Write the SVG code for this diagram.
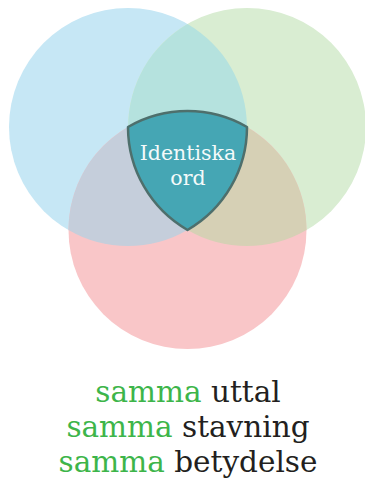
<svg xmlns="http://www.w3.org/2000/svg" width="365" height="482" viewBox="0 0 365 482">
<style>
.ctr{font-family:"DejaVu Serif","Liberation Serif",serif;font-size:20.5px;fill:#f4fafa;text-anchor:middle}
.cap{font-family:"DejaVu Serif","Liberation Serif",serif;font-size:29.5px;fill:#231f20;text-anchor:middle}
.g{fill:#3db54a}
</style>
<rect width="365" height="482" fill="#ffffff"/>
<g id="circle-uttal"><circle cx="128" cy="127" r="119" fill="#c6e7f5"/></g>
<g id="circle-stavning"><circle cx="247" cy="127" r="119" fill="#d9edd2"/></g>
<g id="circle-betydelse"><circle cx="187.5" cy="230" r="119" fill="#f9c6c8"/></g>
<g id="overlaps">
<path d="M187.5,24 A119,119 0 0 1 187.5,230 A119,119 0 0 1 187.5,24 Z" fill="#b5e2de"/>
<path d="M247,127 A119,119 0 0 0 68.5,230 A119,119 0 0 0 247,127 Z" fill="#c5cedb"/>
<path d="M128,127 A119,119 0 0 1 306.5,230 A119,119 0 0 1 128,127 Z" fill="#d6d0b5"/>
</g>
<g id="identiska-ord">
<path d="M128,127 A119,119 0 0 1 247,127 A119,119 0 0 1 187.5,230 A119,119 0 0 1 128,127 Z" fill="#45a6b4" stroke="#4e6f6c" stroke-width="2.5" stroke-linejoin="round"/>
<text class="ctr" x="188" y="160">Identiska</text>
<text class="ctr" x="188" y="185">ord</text>
</g>
<g id="legend">
<text class="cap" x="188" y="402"><tspan class="g">samma</tspan> uttal</text>
<text class="cap" x="188" y="437"><tspan class="g">samma</tspan> stavning</text>
<text class="cap" x="188" y="472"><tspan class="g">samma</tspan> betydelse</text>
</g>
</svg>
